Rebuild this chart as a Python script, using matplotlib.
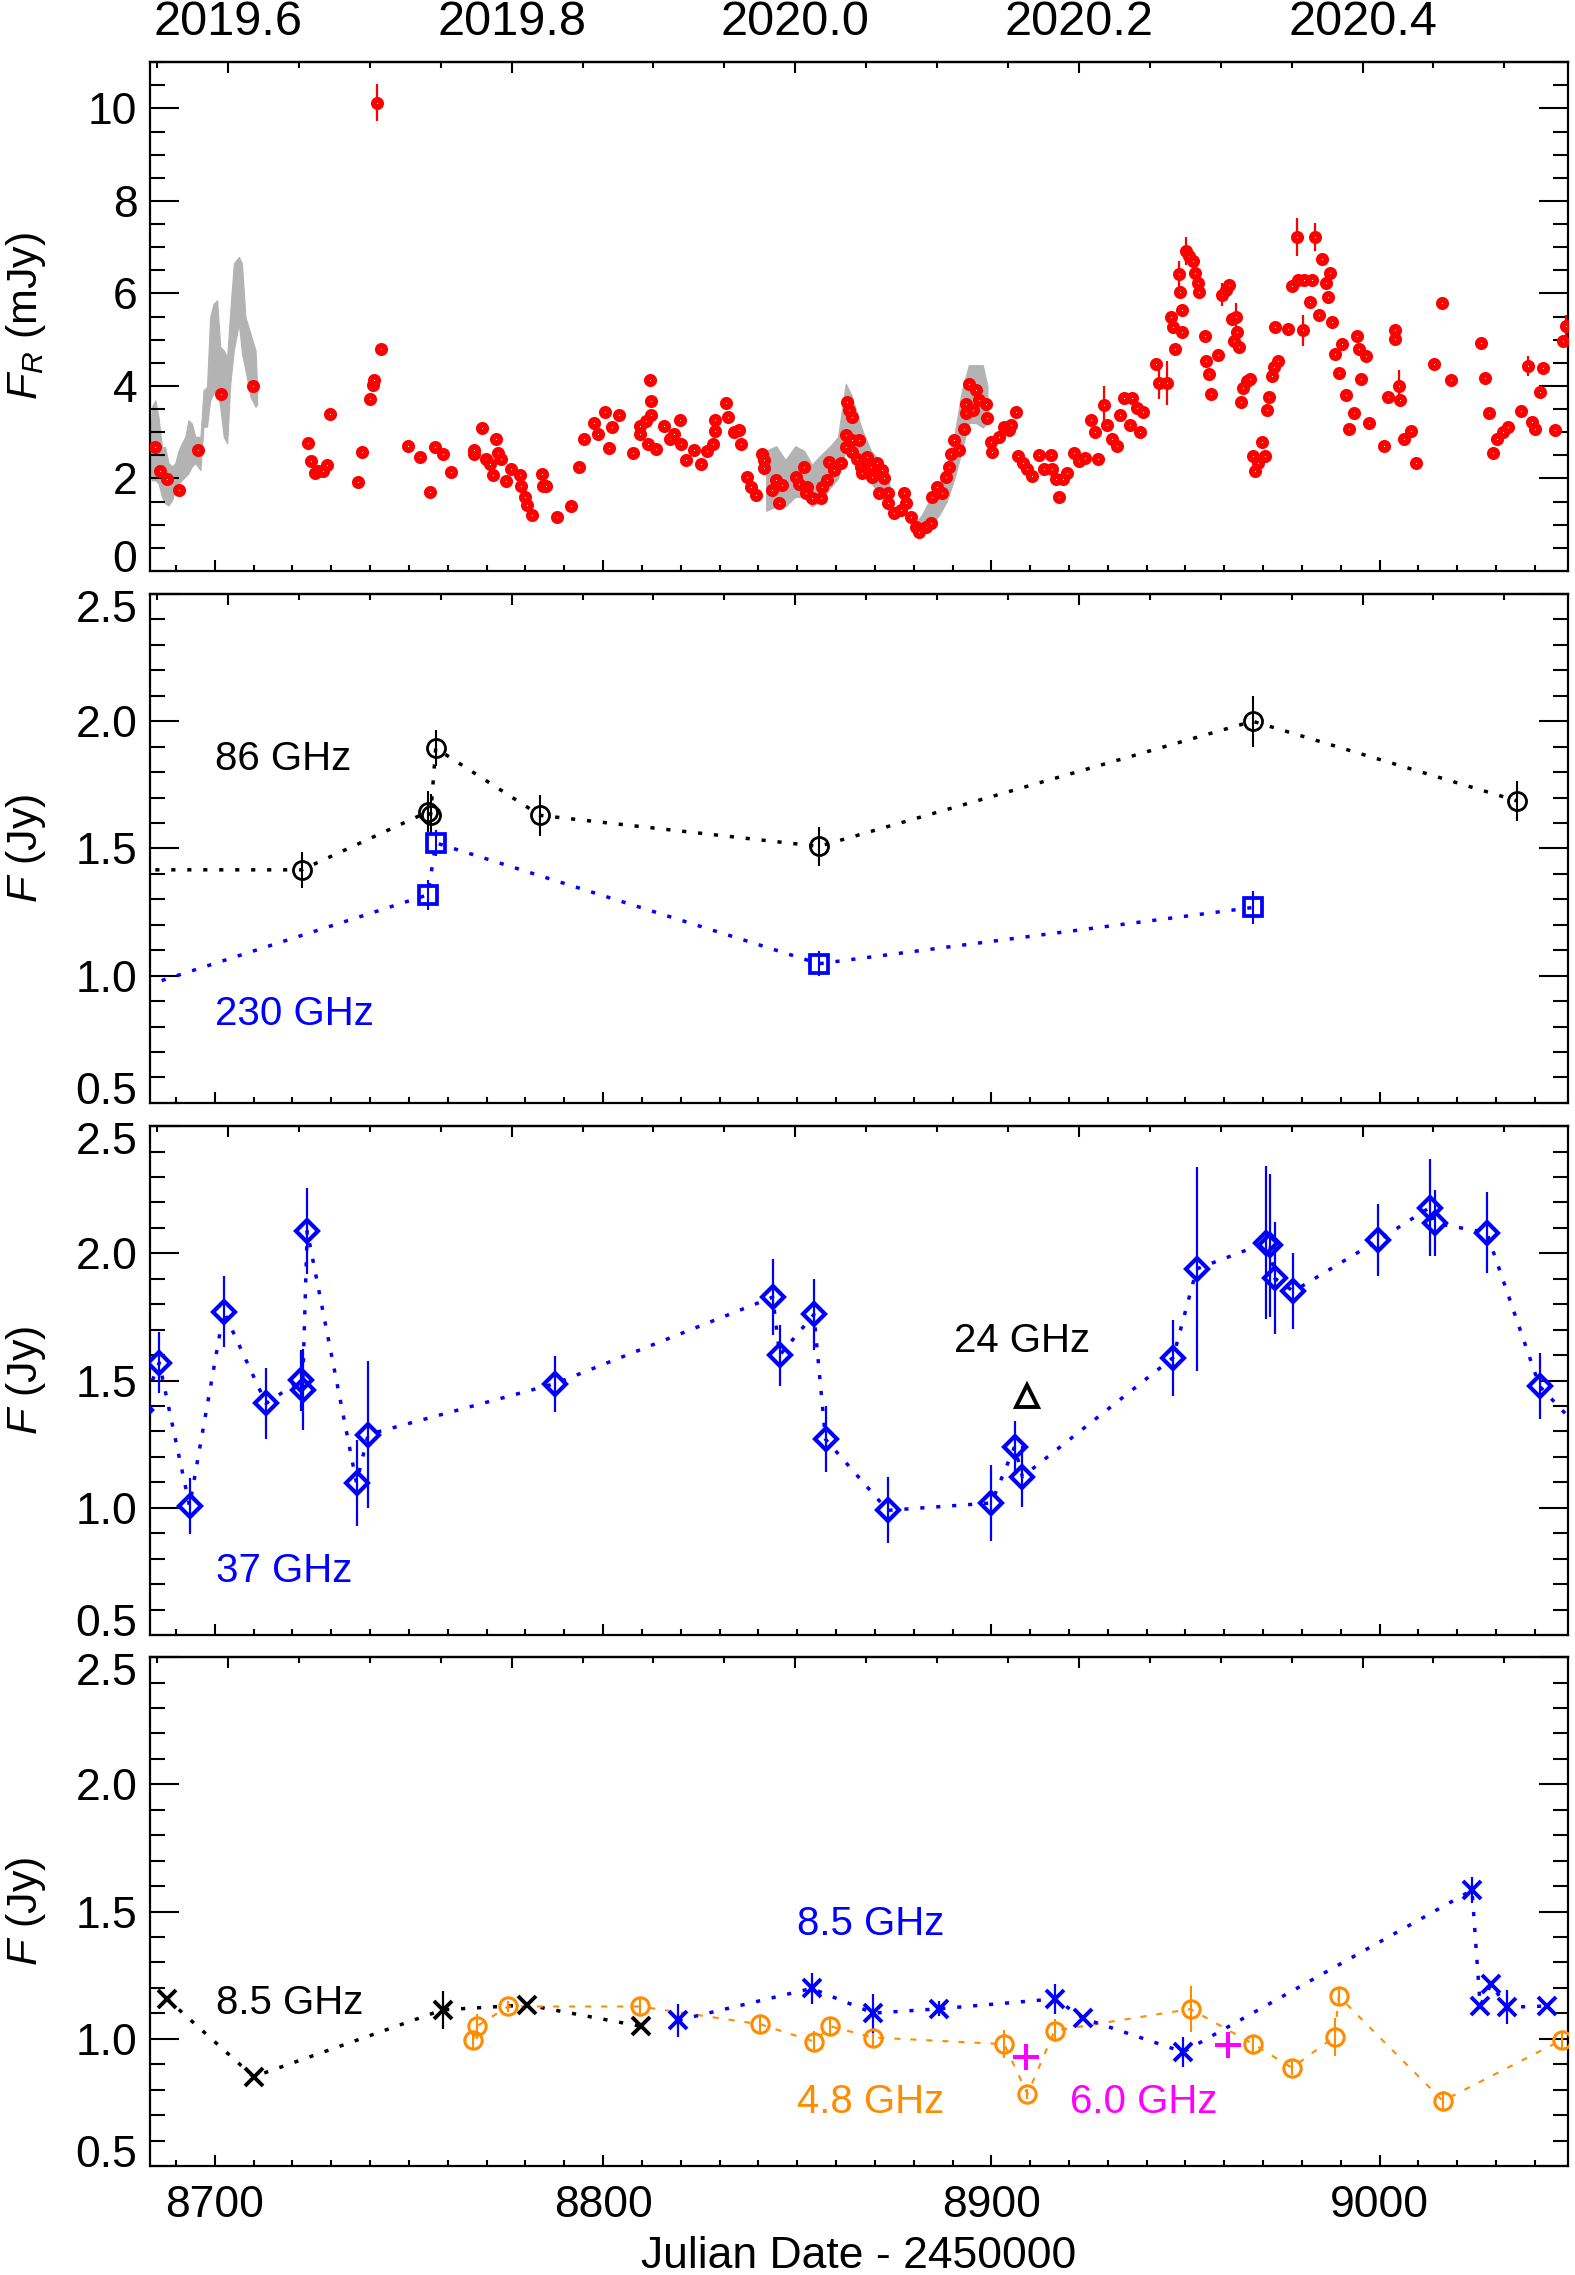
import numpy as np
import matplotlib
matplotlib.use('Agg')
import matplotlib.pyplot as plt
from matplotlib.ticker import MultipleLocator, FixedLocator, FormatStrFormatter, NullFormatter
from matplotlib.transforms import ScaledTranslation

plt.rcParams['font.family'] = ['Liberation Sans', 'DejaVu Sans']
plt.rcParams['mathtext.fontset'] = 'custom'
plt.rcParams['mathtext.rm'] = 'Liberation Sans'
plt.rcParams['mathtext.it'] = 'Liberation Sans:italic'

# ---------------- optical R-band (panel 1) ----------------
gray1_t = [8683.3, 8683.8, 8684.7, 8685.5, 8686.4, 8687.2, 8688.1, 8689.0, 8689.8, 8690.7,
           8691.5, 8692.4, 8693.2, 8694.1, 8695.0, 8696.3, 8697.1, 8698.0, 8698.8, 8699.7,
           8700.6, 8701.4, 8702.3, 8703.2, 8704.0, 8704.9, 8706.2, 8707.0, 8707.9, 8709.2,
           8710.5, 8710.9]
gray1_lo = [2.18, 1.96, 1.96, 1.89, 1.60, 1.46, 1.42, 1.53, 1.75, 1.89,
            1.96, 2.04, 2.11, 2.26, 2.33, 2.18, 3.12, 3.12, 3.69, 3.84,
            3.91, 3.55, 2.90, 2.76, 4.05, 4.77, 5.35, 4.70, 4.34, 3.76,
            3.55, 3.60]
gray1_hi = [2.61, 3.55, 3.69, 3.33, 2.68, 2.68, 2.33, 2.26, 2.33, 2.61,
            2.76, 2.90, 3.26, 3.19, 2.90, 2.90, 3.91, 3.98, 5.49, 5.78,
            5.85, 4.85, 4.77, 4.63, 5.64, 6.65, 6.79, 6.65, 5.49, 5.13,
            4.77, 4.00]

gray2_t = [8842.0, 8844.6, 8847.0, 8849.5, 8851.8, 8853.8, 8856.0, 8858.5, 8860.5, 8862.5, 8864.0,
           8866.5, 8869.0, 8872.0, 8874.0]
gray2_lo = [1.30, 1.40, 1.40, 1.60, 1.60, 1.40, 1.50, 1.80, 2.00, 2.60, 2.60, 2.10, 1.90, 1.60, 1.20]
gray2_hi = [2.60, 2.70, 2.40, 2.70, 2.60, 2.30, 2.50, 2.70, 2.90, 4.05, 3.80, 3.10, 2.60, 2.30, 1.80]

gray3_t = [8880.0, 8882.0, 8884.5, 8886.5, 8888.5, 8890.5, 8892.4, 8894.2, 8896.0, 8897.8, 8899.0]
gray3_lo = [0.80, 0.85, 1.00, 1.20, 1.50, 2.00, 2.60, 3.20, 3.20, 3.10, 3.20]
gray3_hi = [1.00, 1.20, 1.60, 1.90, 2.30, 2.95, 3.90, 4.45, 4.45, 4.45, 4.00]

# red photometry, part A (2019 Aug - Dec)
redA_t = [8684.6, 8685.8, 8687.8, 8690.8, 8695.6, 8701.5, 8709.8, 8723.9, 8724.9, 8725.8,
          8726.6, 8727.8, 8729.0, 8729.8, 8736.9, 8737.9, 8739.9, 8740.8, 8740.9, 8741.8,
          8742.7, 8749.7, 8752.8, 8755.5, 8756.8, 8758.8, 8760.8, 8766.7, 8766.8, 8768.8,
          8769.8, 8771.0, 8771.7, 8772.5, 8772.9, 8773.6, 8775.1, 8776.4, 8778.5, 8778.8,
          8779.9, 8780.5, 8781.7, 8784.4, 8784.6, 8785.2, 8788.2, 8791.7, 8793.8, 8795.0,
          8797.6, 8798.6, 8800.6, 8801.5, 8802.4, 8804.1, 8807.7, 8809.5, 8809.5, 8811.0,
          8812.2, 8812.4, 8812.4, 8811.7, 8813.6, 8815.7, 8817.2, 8818.3, 8819.8, 8820.1,
          8821.3, 8823.4, 8825.2, 8826.9, 8828.4, 8828.8, 8828.8, 8831.6, 8832.3, 8833.7,
          8834.9, 8835.5]
redA_f = [2.67, 2.16, 1.99, 1.76, 2.62, 3.83, 3.99, 2.77, 2.38, 2.12,
          2.16, 2.16, 2.29, 3.39, 1.92, 2.58, 3.71, 4.03, 4.12, 10.12,
          4.79, 2.70, 2.47, 1.71, 2.67, 2.53, 2.15, 2.53, 2.62, 3.10,
          2.42, 2.31, 2.07, 2.86, 2.56, 2.42, 1.94, 2.20, 2.07, 1.83,
          1.61, 1.43, 1.21, 2.10, 1.83, 1.83, 1.16, 1.41, 2.25, 2.86,
          3.19, 2.97, 3.43, 2.66, 3.11, 3.37, 2.56, 3.13, 2.97, 3.24,
          4.12, 3.68, 3.37, 2.75, 2.64, 3.14, 2.86, 2.97, 3.26, 2.75,
          2.40, 2.62, 2.31, 2.60, 2.75, 3.03, 3.26, 3.63, 3.32, 3.00,
          3.04, 2.75]

# part B (dense coverage around the new year)
redB_t = [8837.2, 8838.0, 8839.3, 8841.0, 8841.4, 8841.4, 8844.5, 8843.6, 8845.3, 8846.2,
          8849.6, 8851.8, 8850.5, 8852.6, 8852.2, 8853.9, 8856.1, 8856.5, 8857.8, 8858.2,
          8859.5, 8861.2, 8862.9, 8863.4, 8864.2, 8862.5, 8862.5, 8864.2, 8865.9, 8864.2,
          8865.5, 8866.4, 8866.8, 8868.0, 8868.9, 8869.3, 8870.6, 8871.9, 8872.4, 8871.1,
          8873.3, 8873.3, 8874.9, 8876.7, 8877.5, 8878.0, 8879.3, 8880.5, 8881.4, 8883.1,
          8884.4, 8884.8, 8886.1, 8887.4, 8888.3, 8889.1, 8889.6, 8890.4, 8891.7, 8893.0,
          8893.4, 8894.3, 8896.0, 8896.9, 8898.6, 8895.2, 8899.0, 8893.4, 8899.9, 8900.3,
          8902.0, 8903.3]
redB_f = [2.04, 1.82, 1.64, 2.54, 2.40, 2.22, 1.96, 1.75, 1.46, 1.86,
          2.04, 2.25, 1.89, 1.82, 1.68, 1.57, 1.57, 1.82, 1.96, 2.36,
          2.18, 2.33, 3.66, 3.48, 3.33, 2.94, 2.68, 2.83, 2.83, 2.58,
          2.43, 2.25, 2.11, 2.47, 2.25, 2.04, 2.33, 2.18, 2.00, 1.68,
          1.68, 1.46, 1.25, 1.32, 1.68, 1.46, 1.17, 0.96, 0.85, 0.96,
          1.03, 1.60, 1.82, 1.68, 2.04, 2.25, 2.54, 2.83, 2.61, 3.08,
          3.62, 4.05, 3.91, 3.69, 3.62, 3.48, 3.30, 3.41, 2.79, 2.58,
          2.90, 3.12]

# part C (2020)
redC_t = [8904.5, 8905.1, 8906.3, 8906.9, 8908.1, 8909.3, 8910.5,
          8912.3, 8913.5, 8915.4, 8915.7, 8916.6, 8917.4, 8918.4, 8919.6, 8921.4, 8922.6, 8924.2, 8925.6,
          8926.8, 8927.4, 8929.0, 8929.8, 8931.1, 8932.3, 8933.1, 8934.1, 8935.6, 8936.3, 8937.5, 8938.3,
          8939.0, 8942.3, 8943.2, 8945.2, 8946.2, 8946.8, 8947.4, 8948.4, 8948.6, 8949.2, 8949.2, 8950.2,
          8951.0, 8952.0, 8952.5, 8953.2, 8953.4, 8955.0, 8955.3, 8956.1, 8956.6, 8958.3, 8959.3, 8960.5,
          8961.3, 8962.0, 8962.5, 8963.1, 8963.4, 8963.7, 8964.3, 8964.9, 8965.8, 8966.7, 8967.4, 8968.0,
          8968.6, 8969.8, 8970.4, 8971.0, 8971.6, 8972.2, 8972.8, 8973.8, 8973.0, 8976.4, 8977.4, 8978.8,
          8979.0, 8980.2, 8980.6, 8982.1, 8982.5, 8983.4, 8984.3, 8985.1, 8986.1, 8986.7, 8987.3, 8987.7,
          8988.5, 8989.5, 8990.4, 8991.3, 8992.1, 8993.3, 8994.3, 8994.6, 8995.3, 8996.4, 8997.2, 9001.2,
          9002.1, 9004.0, 9004.0, 9005.0, 9005.2, 9006.3, 9008.2, 9009.3, 9014.1, 9016.1, 9018.5, 9026.2,
          9027.2, 9028.2, 9029.2, 9030.2, 9031.8, 9033.0, 9036.3, 9038.1, 9039.3, 9040.1, 9041.3, 9042.0,
          9045.1, 9047.2, 9048.0]
redC_f = [3.04, 3.15, 3.44, 2.49, 2.34, 2.20, 2.05,
          2.51, 2.20, 2.51, 2.20, 1.98, 1.61, 1.98, 2.12, 2.56, 2.38, 2.45, 3.26,
          3.00, 2.42, 3.59, 3.15, 2.86, 2.71, 3.37, 3.74, 3.15, 3.74, 3.52, 3.00,
          3.44, 4.47, 4.07, 4.07, 5.49, 5.27, 4.80, 6.41, 6.04, 5.64, 5.16, 6.92,
          6.81, 6.70, 6.45, 6.23, 6.04, 5.08, 4.53, 4.25, 3.82, 4.67, 5.97, 6.07,
          6.19, 5.44, 4.98, 5.49, 5.16, 4.84, 3.66, 3.96, 4.10, 4.14, 2.49, 2.16,
          2.34, 2.78, 2.49, 3.48, 3.77, 4.21, 4.40, 4.54, 5.27, 5.24, 6.15, 7.22,
          6.30, 5.20, 6.30, 5.82, 6.30, 7.22, 5.53, 6.74, 6.23, 5.93, 6.45, 5.38,
          4.69, 4.29, 4.91, 3.81, 3.08, 3.41, 5.09, 4.80, 4.14, 4.65, 3.19, 2.70,
          3.77, 5.20, 5.02, 3.99, 3.70, 2.86, 3.02, 2.34, 4.47, 5.79, 4.12, 4.92,
          4.18, 3.41, 2.56, 2.86, 3.00, 3.11, 3.46, 4.43, 3.22, 3.06, 3.87, 4.38,
          3.04, 4.98, 5.29]

# red points with visible error bars
rerr_t = [8741.8, 8943.2, 8945.2, 8948.4, 8950.2, 8959.3, 8963.1, 8978.8, 8983.4, 8980.2, 9005.0, 9038.1,
          9048.0, 8929.0]
rerr_f = [10.12, 4.07, 4.07, 6.41, 6.92, 5.97, 5.49, 7.22, 7.22, 5.20, 3.99, 4.43, 5.29, 3.59]
rerr_e = [0.40, 0.35, 0.48, 0.30, 0.30, 0.25, 0.30, 0.42, 0.30, 0.33, 0.35, 0.22, 0.25, 0.40]

# ---------------- mm (panel 2) ----------------
f86_t = [8660.0, 8722.4, 8754.9, 8755.6, 8756.9, 8783.8, 8855.6, 8967.3, 9035.4]
f86_f = [1.416, 1.416, 1.644, 1.633, 1.894, 1.630, 1.508, 2.000, 1.687]
f86_e = [0.07, 0.07, 0.08, 0.08, 0.07, 0.08, 0.075, 0.10, 0.08]

f230_t = [8655.0, 8754.9, 8756.9, 8855.6, 8967.3]
f230_f = [0.827, 1.318, 1.522, 1.047, 1.268]
f230_e = [0.06, 0.06, 0.05, 0.05, 0.065]

# ---------------- 37 / 24 GHz (panel 3) ----------------
f37_t = [8681.0, 8685.7, 8693.5, 8702.3, 8713.2, 8722.2, 8722.6, 8723.8, 8736.5, 8739.5, 8787.6, 8843.7,
         8845.5, 8854.3, 8857.3, 8873.3, 8900.0, 8906.0, 8908.0, 8946.8, 8952.9, 8970.8, 8971.8, 8973.0,
         8977.8, 8999.7, 9012.9, 9014.3, 9027.6, 9041.2, 9055.0]
f37_f = [1.384, 1.570, 1.007, 1.771, 1.410, 1.502, 1.464, 2.088, 1.098, 1.288, 1.488, 1.828,
         1.600, 1.760, 1.269, 0.990, 1.019, 1.240, 1.122, 1.590, 1.939, 2.042, 2.031, 1.902,
         1.851, 2.052, 2.180, 2.119, 2.081, 1.478, 1.254]
f37_e = [0.12, 0.12, 0.11, 0.14, 0.14, 0.12, 0.16, 0.17, 0.17, 0.29, 0.11, 0.15,
         0.12, 0.14, 0.13, 0.13, 0.15, 0.10, 0.12, 0.15, 0.40, 0.30, 0.28, 0.22,
         0.15, 0.14, 0.19, 0.13, 0.16, 0.13, 0.13]

f24_t = [8909.2]
f24_f = [1.441]

# ---------------- cm (panel 4) ----------------
k85_t = [8687.7, 8710.0, 8758.7, 8780.5, 8809.8]
k85_f = [1.157, 0.851, 1.114, 1.133, 1.049]
k85_e = [0.0, 0.0, 0.075, 0.0, 0.0]

b85_t = [8819.4, 8853.7, 8869.6, 8886.6, 8916.5, 8923.6, 8949.4, 9023.8, 9025.9, 9028.7, 9032.9, 9043.2]
b85_f = [1.073, 1.198, 1.101, 1.118, 1.157, 1.081, 0.948, 1.584, 1.130, 1.214, 1.124, 1.129]
b85_e = [0.065, 0.06, 0.077, 0.03, 0.06, 0.0, 0.06, 0.05, 0.0, 0.0, 0.067, 0.0]

f48_t = [8766.5, 8767.5, 8775.5, 8809.5, 8840.5, 8854.4, 8858.5, 8869.6, 8903.3, 8909.3, 8916.3, 8951.3,
         8967.5, 8977.4, 8988.4, 8989.5, 9016.3, 9046.9]
f48_f = [0.995, 1.049, 1.127, 1.127, 1.057, 0.989, 1.049, 1.005, 0.979, 0.783, 1.032, 1.117,
         0.979, 0.886, 1.008, 1.167, 0.756, 0.995]
f48_e = [0.03, 0.05, 0.02, 0.03, 0.03, 0.04, 0.03, 0.04, 0.056, 0.02, 0.045, 0.089,
         0.03, 0.03, 0.075, 0.03, 0.04, 0.03]

f60_t = [8909.0, 8961.0]
f60_f = [0.928, 0.976]

year_ticks = [2019.6, 2019.8, 2020.0, 2020.2, 2020.4]
jd_ticks = [8700, 8800, 8900, 9000]

# ---------------- figure ----------------
RED = '#ff0000'
GRAY = '#b3b3b3'
BLUE = '#0000ff'
ORANGE = '#ff8c00'
MAGENTA = '#ff00ff'
DOT = (0, (1.2, 3.4))
DASH = (0, (2.9, 4.8))

red_t = redA_t + redB_t + redC_t
red_f = redA_f + redB_f + redC_f

fig = plt.figure(figsize=(15.75, 22.75), dpi=100)
left, width, height = 0.0952, 0.9003, 0.2237
bottoms = [0.7490, 0.5152, 0.2813, 0.0479]
axes = [fig.add_axes([left, b, width, height]) for b in bottoms]
XL = (8683.3, 9048.5)


def jd2yr(jd):
    return 2020.0 + (np.asarray(jd) - 8849.5) / 365.25


def yr2jd(yr):
    return 8849.5 + (np.asarray(yr) - 2020.0) * 365.25


for i, ax in enumerate(axes):
    ax.set_xlim(XL)
    for s in ax.spines.values():
        s.set_linewidth(1.6)
    ax.xaxis.set_major_locator(FixedLocator(jd_ticks))
    ax.xaxis.set_minor_locator(MultipleLocator(10))
    ax.xaxis.set_major_formatter(FormatStrFormatter('%d'))
    ax.tick_params(axis='x', which='major', direction='in', length=8, width=1.5, top=False,
                   bottom=True, labelbottom=(i == 3), labelsize=32, pad=14)
    ax.tick_params(axis='x', which='minor', direction='in', length=4.3, width=1.5, top=False, bottom=True)
    ax.tick_params(axis='y', which='major', direction='in', length=21, width=1.5, left=True, right=True,
                   labelsize=32, pad=9)
    ax.tick_params(axis='y', which='minor', direction='in', length=10.8, width=1.5, left=True, right=True)
    sec = ax.secondary_xaxis('top', functions=(jd2yr, yr2jd))
    sec.xaxis.set_major_locator(FixedLocator(year_ticks))
    sec.xaxis.set_minor_locator(MultipleLocator(0.05))
    if i == 0:
        sec.xaxis.set_major_formatter(FormatStrFormatter('%.1f'))
    else:
        sec.xaxis.set_major_formatter(NullFormatter())
    sec.tick_params(which='major', direction='in', length=8, width=1.5, labelsize=35, pad=12)
    sec.tick_params(which='minor', direction='in', length=4, width=1.5)
    sec.spines['top'].set_linewidth(1.6)

# ---- panel 1 ----
ax = axes[0]
ax.fill_between(gray1_t, gray1_lo, gray1_hi, color=GRAY, lw=0.8, ec=GRAY, zorder=1)
ax.fill_between(gray2_t, gray2_lo, gray2_hi, color=GRAY, lw=0.8, ec=GRAY, zorder=1)
ax.fill_between(gray3_t, gray3_lo, gray3_hi, color=GRAY, lw=0.8, ec=GRAY, zorder=1)
ax.errorbar(rerr_t, rerr_f, yerr=rerr_e, fmt='none', ecolor=RED, elinewidth=1.6, capsize=0, zorder=2)
ax.plot(red_t, red_f, ls='none', marker='o', ms=5.2, mew=4.2, mec=RED, mfc='white', zorder=3)
ax.set_ylim(0, 11)
ax.yaxis.set_major_locator(FixedLocator([0, 2, 4, 6, 8, 10]))
ax.yaxis.set_minor_locator(MultipleLocator(0.5))
ax.yaxis.set_major_formatter(FormatStrFormatter('%d'))

# ---- panel 2 ----
ax = axes[1]
ax.plot(f86_t, f86_f, ls=DOT, color='black', lw=2.5, zorder=2)
ax.errorbar(f86_t, f86_f, yerr=f86_e, fmt='none', ecolor='black', elinewidth=1.5, capsize=0, zorder=3)
ax.plot(f86_t, f86_f, ls='none', marker='o', ms=13, mew=2.0, mec='black', mfc='none', zorder=4)
ax.plot(f230_t, f230_f, ls=DOT, color=BLUE, lw=2.5, zorder=2)
ax.errorbar(f230_t, f230_f, yerr=f230_e, fmt='none', ecolor=BLUE, elinewidth=1.5, capsize=0, zorder=3)
ax.plot(f230_t, f230_f, ls='none', marker='s', ms=12.5, mew=2.7, mec=BLUE, mfc='none', zorder=4)
ax.text(8700.0, 1.85, '86 GHz', fontsize=29, color='black', ha='left', va='center')
ax.text(8700.0, 0.85, '230 GHz', fontsize=29, color=BLUE, ha='left', va='center')

# ---- panel 3 ----
ax = axes[2]
ax.plot(f37_t, f37_f, ls=DOT, color=BLUE, lw=2.5, zorder=2)
ax.errorbar(f37_t, f37_f, yerr=f37_e, fmt='none', ecolor=BLUE, elinewidth=1.6, capsize=0, zorder=3)
ax.plot(f37_t, f37_f, ls='none', marker='D', ms=11.5, mew=3.0, mec=BLUE, mfc='none', zorder=4)
ax.plot(f24_t, f24_f, ls='none', marker='^', ms=15.5, mew=2.8, mec='black', mfc='none', zorder=4)
ax.text(8700.3, 0.75, '37 GHz', fontsize=29, color=BLUE, ha='left', va='center')
ax.text(8890.4, 1.655, '24 GHz', fontsize=29, color='black', ha='left', va='center')

# ---- panel 4 ----
ax = axes[3]
ax.plot(k85_t, k85_f, ls=DOT, color='black', lw=2.5, zorder=2)
ax.errorbar(k85_t, k85_f, yerr=k85_e, fmt='none', ecolor='black', elinewidth=1.6, capsize=0, zorder=3)
ax.plot(k85_t, k85_f, ls='none', marker='x', ms=13.5, mew=2.8, mec='black', zorder=4)
ax.plot(f48_t, f48_f, ls=DASH, color=ORANGE, lw=1.5, zorder=2)
ax.errorbar(f48_t, f48_f, yerr=f48_e, fmt='none', ecolor=ORANGE, elinewidth=1.5, capsize=0, zorder=3)
ax.plot(f48_t, f48_f, ls='none', marker='o', ms=12.5, mew=2.2, mec=ORANGE, mfc='none', zorder=4)
ax.plot(b85_t, b85_f, ls=DOT, color=BLUE, lw=2.5, zorder=2)
ax.errorbar(b85_t, b85_f, yerr=b85_e, fmt='none', ecolor=BLUE, elinewidth=1.6, capsize=0, zorder=3)
ax.plot(b85_t, b85_f, ls='none', marker='x', ms=13.5, mew=2.8, mec=BLUE, zorder=4)
ax.plot(f60_t, f60_f, ls='none', marker='+', ms=19, mew=2.9, mec=MAGENTA, zorder=5)
ax.text(8700.3, 1.14, '8.5 GHz', fontsize=29, color='black', ha='left', va='center')
ax.text(8850.0, 1.45, '8.5 GHz', fontsize=29, color=BLUE, ha='left', va='center')
ax.text(8850.0, 0.75, '4.8 GHz', fontsize=29, color=ORANGE, ha='left', va='center')
ax.text(8920.3, 0.75, '6.0 GHz', fontsize=29, color=MAGENTA, ha='left', va='center')

for ax in axes[1:]:
    ax.set_ylim(0.5, 2.5)
    ax.yaxis.set_major_locator(FixedLocator([0.5, 1.0, 1.5, 2.0, 2.5]))
    ax.yaxis.set_minor_locator(MultipleLocator(0.1))
    ax.yaxis.set_major_formatter(FormatStrFormatter('%.1f'))

# nudge end tick labels inward (as in the original)
for i, ax in enumerate(axes):
    ticks = ax.yaxis.get_major_ticks()
    lab0 = ticks[0].label1
    lab0.set_transform(lab0.get_transform() + ScaledTranslation(0, 10.5 / 72, fig.dpi_scale_trans))
    if i > 0:
        labn = ticks[-1].label1
        labn.set_transform(labn.get_transform() + ScaledTranslation(0, -8.5 / 72, fig.dpi_scale_trans))

# axis titles
ylab_x = 0.0163
fig.text(ylab_x, bottoms[0] + height / 2, r'$F_R$ (mJy)', rotation=90, fontsize=31, ha='center', va='center')
for b in bottoms[1:]:
    fig.text(ylab_x, b + height / 2, r'$F$ (Jy)', rotation=90, fontsize=31, ha='center', va='center')
fig.text(0.5454, 1 - 2257 / 2275, 'Julian Date - 2450000', fontsize=32, ha='center', va='center')

fig.savefig('out.png', dpi=100)
